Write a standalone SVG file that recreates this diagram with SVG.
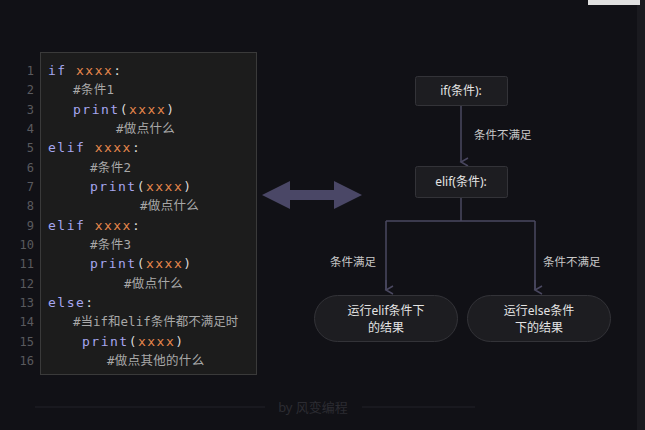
<svg xmlns="http://www.w3.org/2000/svg" width="645" height="430" viewBox="0 0 645 430">
<style>
.ln{font-family:"DejaVu Sans Mono",monospace;font-size:12px;fill:#5a5a5e;text-anchor:end}
.c{font-family:"DejaVu Sans Mono","Noto Sans CJK SC",monospace;font-size:13px;letter-spacing:1.5px}
.k{fill:#a6a6f0}.o{fill:#e8884c}.w{fill:#d8d8d8}.g{fill:#a8a8a8;font-size:12.5px;letter-spacing:0.3px}
.box{fill:#1d1d21;stroke:#333338;stroke-width:1}
.t{font-family:"Noto Sans","Noto Sans CJK SC",sans-serif;font-size:12px;fill:#e4e4e4;text-anchor:middle}
.l{font-family:"Noto Sans","Noto Sans CJK SC",sans-serif;font-size:11.5px;fill:#c8c8c8}
.edge{stroke:#4a4860;stroke-width:1.5;fill:none}
</style>
<defs><marker id="ah" markerWidth="10" markerHeight="10" refX="5" refY="8" orient="auto" markerUnits="userSpaceOnUse"><path d="M1,1 L5,8 L9,1" fill="none" stroke="#4a4860" stroke-width="1.5"/></marker></defs>
<rect width="645" height="430" fill="#111116"/>
<rect x="637" y="0" width="8" height="430" fill="#1a1a1f"/>
<rect x="588" y="0" width="52" height="5" fill="#e0e0e0"/>
<g id="code">
<rect x="40.5" y="52.5" width="216" height="322" fill="#1c1c1c" stroke="#3a3a3a"/>
<g class="ln"><text x="34" y="75">1</text><text x="34" y="94">2</text><text x="34" y="114">3</text><text x="34" y="133">4</text><text x="34" y="152">5</text><text x="34" y="172">6</text><text x="34" y="191">7</text><text x="34" y="210">8</text><text x="34" y="230">9</text><text x="34" y="249">10</text><text x="34" y="268">11</text><text x="34" y="288">12</text><text x="34" y="307">13</text><text x="34" y="326">14</text><text x="34" y="346">15</text><text x="34" y="365">16</text></g>
<g class="c">
<text x="48" y="75"><tspan class="k">if</tspan><tspan class="o"> xxxx</tspan><tspan class="w">:</tspan></text>
<text x="73" y="94" class="g">#条件1</text>
<text x="73" y="114"><tspan class="k">print</tspan><tspan class="w">(</tspan><tspan class="o">xxxx</tspan><tspan class="w">)</tspan></text>
<text x="116" y="133" class="g">#做点什么</text>
<text x="48" y="152"><tspan class="k">elif</tspan><tspan class="o"> xxxx</tspan><tspan class="w">:</tspan></text>
<text x="90" y="172" class="g">#条件2</text>
<text x="90" y="191"><tspan class="k">print</tspan><tspan class="w">(</tspan><tspan class="o">xxxx</tspan><tspan class="w">)</tspan></text>
<text x="140" y="210" class="g">#做点什么</text>
<text x="48" y="230"><tspan class="k">elif</tspan><tspan class="o"> xxxx</tspan><tspan class="w">:</tspan></text>
<text x="90" y="249" class="g">#条件3</text>
<text x="90" y="268"><tspan class="k">print</tspan><tspan class="w">(</tspan><tspan class="o">xxxx</tspan><tspan class="w">)</tspan></text>
<text x="124" y="288" class="g">#做点什么</text>
<text x="48" y="307"><tspan class="k">else</tspan><tspan class="w">:</tspan></text>
<text x="73" y="326" class="g" style="letter-spacing:0px">#当if和elif条件都不满足时</text>
<text x="82" y="346"><tspan class="k">print</tspan><tspan class="w">(</tspan><tspan class="o">xxxx</tspan><tspan class="w">)</tspan></text>
<text x="107" y="365" class="g">#做点其他的什么</text>
</g>
</g>
<g id="bigarrow"><path d="M262,195 L290,181 L290,190 L334,190 L334,181 L362,195 L334,209 L334,200 L290,200 L290,209 Z" fill="#4a4766"/></g>
<g id="connectors">
<path class="edge" d="M461,105 V162" marker-end="url(#ah)"/>
<path class="edge" d="M461,197 V221 M386,221 H535 M386,221 V290 M535,221 V290"/>
<path class="edge" d="M386,280 V290" marker-end="url(#ah)"/>
<path class="edge" d="M535,280 V290" marker-end="url(#ah)"/>
<text class="l" x="474" y="139">条件不满足</text>
<text class="l" x="330" y="266">条件满足</text>
<text class="l" x="543" y="266">条件不满足</text>
</g>
<g id="n-if"><rect class="box" x="415.5" y="76.5" width="92" height="29" rx="2"/><text class="t" x="461" y="95">if(条件):</text></g>
<g id="n-elif"><rect class="box" x="415.5" y="166.5" width="92" height="31" rx="2"/><text class="t" x="461" y="186">elif(条件):</text></g>
<g id="n-r1"><rect class="box" x="314.5" y="295.5" width="143" height="46" rx="23"/><text class="t" x="386" y="315">运行elif条件下</text><text class="t" x="386" y="332">的结果</text></g>
<g id="n-r2"><rect class="box" x="467.5" y="295.5" width="143" height="46" rx="23"/><text class="t" x="539" y="315">运行else条件</text><text class="t" x="539" y="332">下的结果</text></g>
<g id="footer">
<path d="M35,407 H265 M362,407 H475" stroke="#222228" stroke-width="1"/>
<text x="313" y="412" text-anchor="middle" font-family="Noto Sans,Noto Sans CJK SC,sans-serif" font-size="13" fill="#2c2c32">by 风变编程</text>
</g>
</svg>
